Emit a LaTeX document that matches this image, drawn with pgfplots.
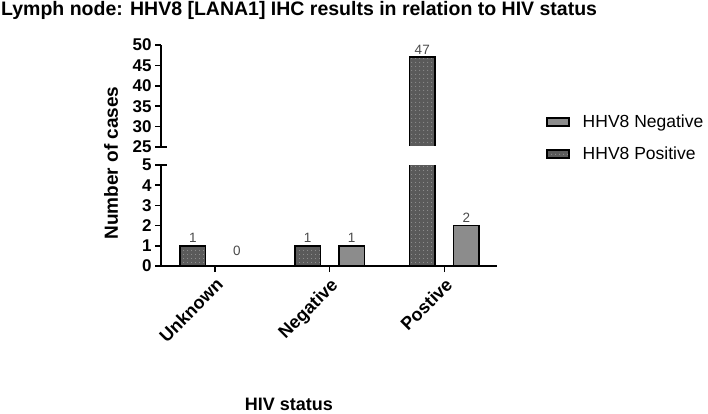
\documentclass[border=0pt]{standalone}
\usepackage{fontspec}
\setmainfont{Liberation Sans}
\usepackage{pgfplots}
\pgfplotsset{compat=1.18}
\usetikzlibrary{patterns.meta}
\definecolor{posfill}{HTML}{5A5A5A}
\definecolor{negfill}{HTML}{8C8C8C}
\definecolor{dotc}{HTML}{A0A0A0}
\definecolor{lblc}{HTML}{4A4A4A}
\begin{document}
\begin{tikzpicture}
\useasboundingbox (0pt,0pt) rectangle (708pt,413pt);
\pgfplotsset{
  common/.style={
    scale only axis, width=336pt, xmin=-0.47, xmax=2.46,
    ybar=18.5pt, bar width=25.5pt,
    axis line style={line width=1.8pt, black},
    tick style={line width=1.5pt, black},
    major tick length=6pt, tick align=outside,
    tick label style={font=\bfseries\fontsize{17}{17}\selectfont},
    /pgf/number format/assume math mode=true,
    point meta=explicit symbolic,
    nodes near coords,
    every node near coord/.append style={font=\fontsize{13.5}{14}\selectfont, text=lblc, yshift=-1pt},
    legend image code/.code={\draw[#1, line width=1.5pt] (0pt,-4pt) rectangle (22pt,4pt);},
  },
  posstyle/.style={draw=black, line width=1.5pt, fill=posfill, postaction={pattern={Dots[distance=4pt,radius=0.6pt]}, pattern color=dotc}},
  negstyle/.style={draw=black, line width=1.5pt, fill=negfill},
}
% upper segment
\begin{axis}[common, at={(161pt,266pt)}, anchor=south west, height=102pt,
  ymin=25, ymax=50, ytick={25,30,...,50},
  axis x line=none, axis y line*=left, xtick=\empty,
  extra y ticks={25}, extra y tick labels={},
  extra y tick style={tick align=center, major tick length=12pt}]
\addplot[posstyle, bar shift=-22pt] coordinates {(2,47)[47]};
\coordinate (brk) at (axis cs:2,25);
\end{axis}
\fill[white] ([xshift=-37pt,yshift=-1.2pt]brk) rectangle ([xshift=-7pt,yshift=1.2pt]brk);
% lower segment
\begin{axis}[common, at={(161pt,147pt)}, anchor=south west, height=101pt,
  ymin=0, ymax=5, ytick={0,1,...,5},
  axis x line*=bottom, axis y line*=left,
  xtick={0,1,2}, xticklabels={Unknown,Negative,Postive},
  x tick label style={rotate=45, anchor=north east, font=\bfseries\fontsize{18}{18}\selectfont},
  extra y ticks={5}, extra y tick labels={},
  extra y tick style={tick align=center, major tick length=12pt},
  reverse legend,
  legend style={at={(axis description cs:1.137,1.54)}, anchor=north west, draw=none, fill=none,
    font=\fontsize{17.5}{18}\selectfont, row sep=14pt,
    /tikz/every odd column/.append style={column sep=11pt}},
  legend cell align=left]
\addplot[posstyle] coordinates {(0,1)[1] (1,1)[1] (2,47)[{}]};
\addplot[negstyle] coordinates {(0,0)[\raisebox{7pt}{0}] (1,1)[1] (2,2)[2]};
\legend{HHV8 Positive, HHV8 Negative}
\end{axis}
\node[anchor=base west, font=\bfseries\fontsize{19.5}{20}\selectfont, inner sep=0pt] at (1pt,397pt) {Lymph node: HHV8 [LANA1] IHC results in relation to HIV status};
\node[rotate=90, font=\bfseries\fontsize{19}{19}\selectfont, inner sep=0pt] at (111pt,250pt) {Number of cases};
\node[font=\bfseries\fontsize{18}{18}\selectfont, inner sep=0pt] at (289pt,9pt) {HIV status};
\end{tikzpicture}
\end{document}
